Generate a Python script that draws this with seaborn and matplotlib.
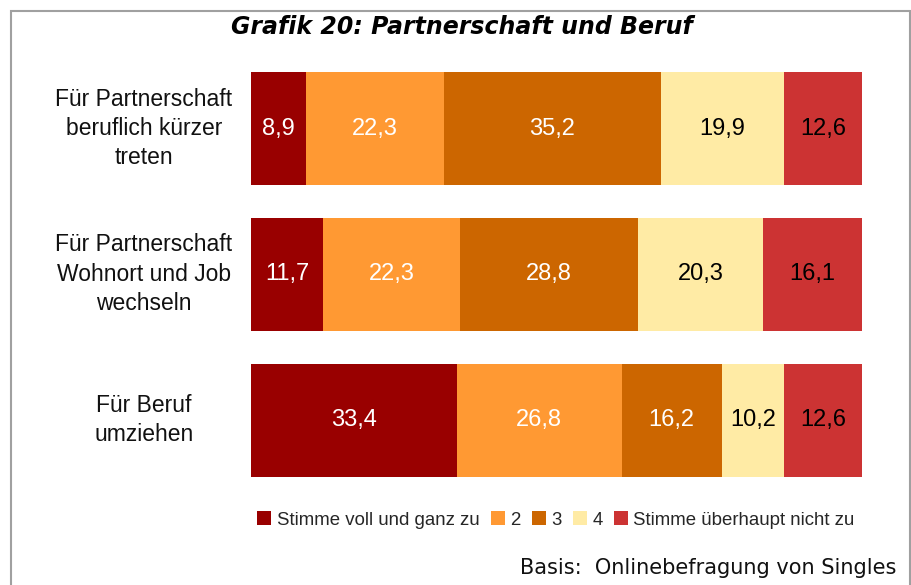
import matplotlib
matplotlib.use("Agg")
import matplotlib.pyplot as plt
import seaborn as sns
import pandas as pd
import numpy as np
from matplotlib.patches import Rectangle, Patch

categories = ["Für Partnerschaft\nberuflich kürzer\ntreten",
              "Für Partnerschaft\nWohnort und Job\nwechseln",
              "Für Beruf\numziehen"]
series_names = ["Stimme voll und ganz zu", "2", "3", "4", "Stimme überhaupt nicht zu"]
s1 = [8.9, 11.7, 33.4]
s2 = [22.3, 22.3, 26.8]
s3 = [35.2, 28.8, 16.2]
s4 = [19.9, 20.3, 10.2]
s5 = [12.6, 16.1, 12.6]
colors = ["#990000", "#FF9933", "#CC6600", "#FFEBA5", "#CC3333"]
label_colors = ["white", "white", "white", "black", "black"]
title = "Grafik 20: Partnerschaft und Beruf"
note = "Basis:  Onlinebefragung von Singles"

sns.set_theme(style="white")
plt.rcParams['font.family'] = ['Liberation Sans', 'DejaVu Sans']

series = [s1, s2, s3, s4, s5]
vals = np.array(series, dtype=float)  # shape (5, 3)
totals = vals.sum(axis=0)
pct = vals / totals * 100.0
cum = np.cumsum(pct, axis=0)

fig = plt.figure(figsize=(9.12, 5.85), dpi=100)
ax = fig.add_axes([251/912, 1 - 493/585, (862 - 251)/912, (493 - 55.6)/585])

# draw cumulative layers from last to first so earlier segments overlay
for i in range(len(series) - 1, -1, -1):
    df = pd.DataFrame({"cat": categories, "val": cum[i]})
    sns.barplot(data=df, x="val", y="cat", order=categories, orient="h",
                color=colors[i], width=0.775, ax=ax, saturation=1,
                edgecolor="none", linewidth=0)

for i in range(len(series)):
    for j in range(len(categories)):
        start = cum[i][j] - pct[i][j]
        ax.text(start + pct[i][j] / 2, j, f"{vals[i][j]:.1f}".replace(".", ","),
                ha="center", va="center", color=label_colors[i], fontsize=17)

ax.set_xlim(0, 100)
ax.set_ylim(2.5, -0.5)
ax.set_xlabel("")
ax.set_ylabel("")
ax.set_xticks([])
ax.tick_params(axis="y", length=0)
for lab in ax.get_yticklabels():
    lab.set_horizontalalignment("center")
    lab.set_verticalalignment("center")
    lab.set_fontsize(16.5)
    lab.set_linespacing(1.36)
    lab.set_color("#111111")
ax.yaxis.set_tick_params(pad=77)
for sp in ax.spines.values():
    sp.set_visible(False)

# title
fig.text(462/912, 1 - 27/585, title, ha="center", va="center",
         fontsize=17, fontweight="bold", fontstyle="italic",
         family=["DejaVu Sans"], color="black")

# legend
handles = [Patch(facecolor=c, edgecolor="none") for c in colors]
fig.legend(handles, series_names, loc="center", bbox_to_anchor=(556/912, 1 - 520/585),
           ncol=5, frameon=False, handlelength=0.75, handleheight=0.75,
           handletextpad=0.3, columnspacing=0.6, borderpad=0,
           prop={"family": ["Liberation Sans"], "size": 13.4})

# note
fig.text(896/912, 1 - 568/585, note, ha="right", va="center",
         fontsize=15, family=["DejaVu Sans"], color="#111111")

# frame
fig.patches.append(Rectangle((11/912, -0.05), (910 - 11)/912, (1 - 11/585) + 0.05,
                             transform=fig.transFigure, fill=False,
                             edgecolor="#A0A0A0", linewidth=1.5))

fig.savefig("out.png", dpi=100)
